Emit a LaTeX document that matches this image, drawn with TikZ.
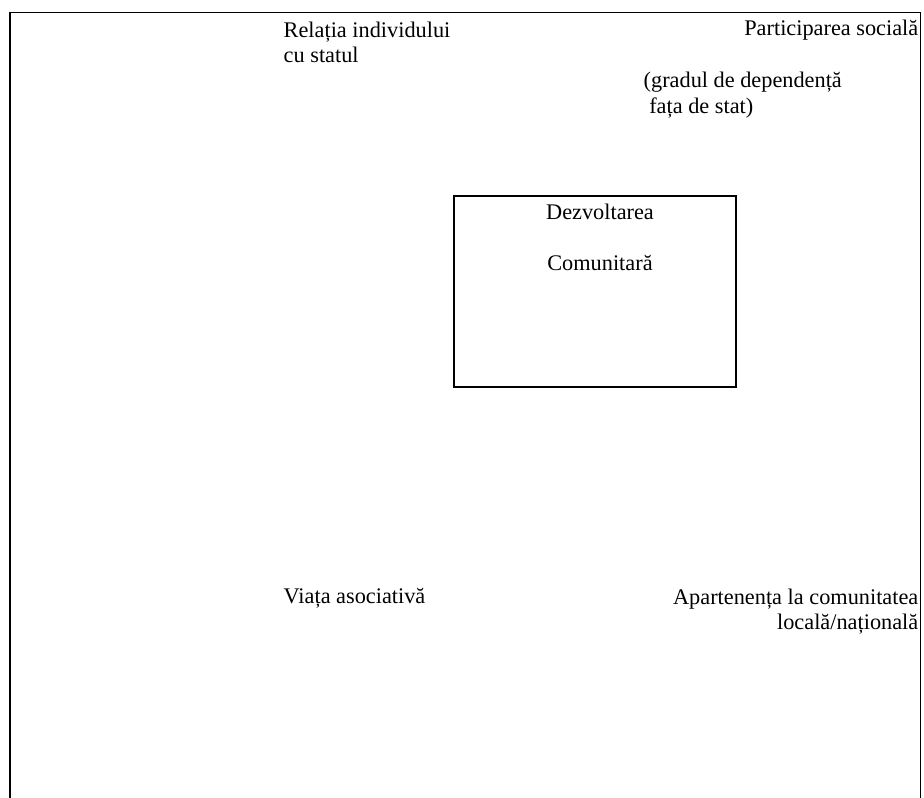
\documentclass[tikz,border=0pt]{standalone}
\usepackage{fontspec}
\setmainfont{Liberation Serif}
\usetikzlibrary{positioning}

\tikzset{eticheta/.style={inner sep=0pt, font=\fontsize{22.3}{25.5}\selectfont}}

\begin{document}
\begin{tikzpicture}[x=1pt, y=-1pt, line width=1.4pt]
  \useasboundingbox (0,0) rectangle (924,798);

  % Cadrul exterior (deschis jos)
  \coordinate (stjos) at (10,800);
  \coordinate (stsus) at (10,12.5);
  \coordinate (drsus) at (920.5,12.5);
  \coordinate (drjos) at (920.5,800);
  \draw (stjos) -- (stsus) -- (drsus) -- (drjos);

  % Colturile de sus
  \node[eticheta, anchor=north west, align=left] (relatia) at (283,21) {Relația individului\\cu statul};
  \node[eticheta, anchor=base east] (particip) at (919,35) {Participarea socială};
  \node[eticheta, anchor=north west, align=left] (gradul) at (643,71.5) {(gradul de dependență\\\hspace*{.25em}fața de stat)};

  % Caseta centrala
  \node[draw, minimum width=282pt, minimum height=191pt, inner sep=0pt] (caseta) at (595,291.5) {};
  \node[eticheta, anchor=north, align=center] (dezv) at (600,203) {Dezvoltarea\\[25.5pt]Comunitară};

  % Colturile de jos
  \node[eticheta, anchor=base west] (viata) at (283,603) {Viața asociativă};
  \node[eticheta, anchor=north east, align=right] (apart) at (919,588) {Apartenența la comunitatea\\locală/națională};
\end{tikzpicture}
\end{document}
